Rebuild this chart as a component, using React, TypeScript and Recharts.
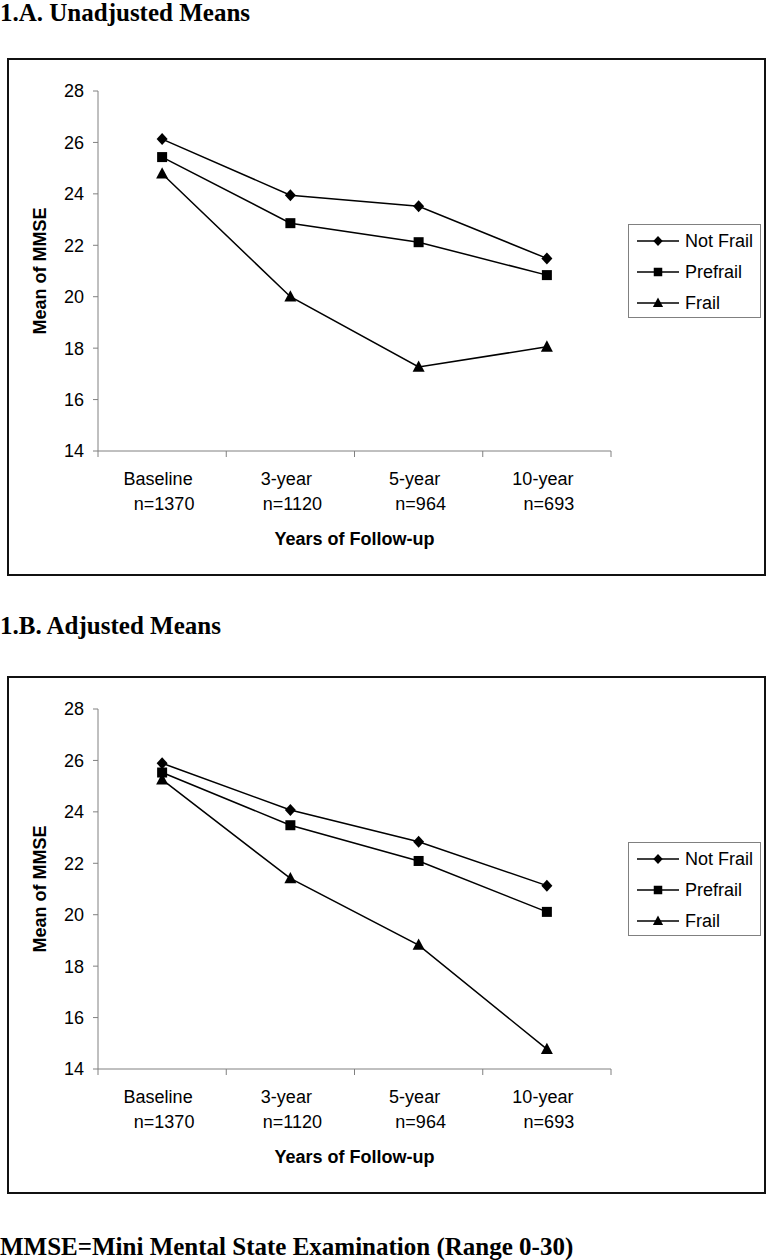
import { Line, LineChart, XAxis, YAxis } from 'recharts'

const categories = ['Baseline', '3-year', '5-year', '10-year']
const sampleSizes = ['n=1370', 'n=1120', 'n=964', 'n=693']
const seriesNames = ['Not Frail', 'Prefrail', 'Frail']
const markerShapes = ['diamond', 'square', 'triangle']
const yTicks = [14, 16, 18, 20, 22, 24, 26, 28]

// 1.A unadjusted means
const unadjustedNotFrail = [26.13, 23.95, 23.52, 21.49]
const unadjustedPrefrail = [25.43, 22.86, 22.12, 20.84]
const unadjustedFrail = [24.78, 20.0, 17.27, 18.05]

// 1.B adjusted means
const adjustedNotFrail = [25.89, 24.07, 22.84, 21.13]
const adjustedPrefrail = [25.53, 23.48, 22.09, 20.11]
const adjustedFrail = [25.25, 21.41, 18.82, 14.77]

const buildRows = (notFrail: number[], prefrail: number[], frail: number[]) =>
  categories.map((name, i) => ({
    name,
    'Not Frail': notFrail[i],
    Prefrail: prefrail[i],
    Frail: frail[i],
  }))

const unadjustedRows = buildRows(unadjustedNotFrail, unadjustedPrefrail, unadjustedFrail)
const adjustedRows = buildRows(adjustedNotFrail, adjustedPrefrail, adjustedFrail)

const sans = "'Liberation Sans', Arial, sans-serif"
const serif = "'Liberation Serif', 'Times New Roman', serif"
const axisGray = '#808080'

function Marker({ shape, cx, cy, s = 1 }: { shape: string; cx: number; cy: number; s?: number }) {
  if (shape === 'diamond') {
    return (
      <polygon
        points={`${cx},${cy - 6 * s} ${cx + 5.5 * s},${cy} ${cx},${cy + 6 * s} ${cx - 5.5 * s},${cy}`}
        fill='#000'
      />
    )
  }
  if (shape === 'square') {
    return <rect x={cx - 5 * s} y={cy - 5 * s} width={10 * s} height={10 * s} fill='#000' />
  }
  return (
    <polygon
      points={`${cx},${cy - 6.5 * s} ${cx + 6 * s},${cy + 4.8 * s} ${cx - 6 * s},${cy + 4.8 * s}`}
      fill='#000'
    />
  )
}

// two-line category label, with tick marks on the band edges (Excel style)
function CategoryTick(props: any) {
  const { x, y, payload, index } = props
  const half = payload.offset ?? 64
  return (
    <g>
      {index === 0 && <line x1={x - half} x2={x - half} y1={y} y2={y + 6} stroke={axisGray} />}
      <line x1={x + half} x2={x + half} y1={y} y2={y + 6} stroke={axisGray} />
      <text x={x} y={y} textAnchor='middle' fontSize={18} fill='#000'>
        <tspan x={x - 4} dy={34}>
          {payload.value}
        </tspan>
        <tspan x={x + 2} dy={25}>
          {sampleSizes[index]}
        </tspan>
      </text>
    </g>
  )
}

function LegendBox({ top }: { top: number }) {
  return (
    <div
      style={{
        position: 'absolute',
        left: 628,
        top,
        width: 133,
        height: 94,
        border: `1px solid ${axisGray}`,
        boxSizing: 'border-box',
        background: '#fff',
        fontFamily: sans,
        fontSize: 18,
      }}
    >
      {seriesNames.map((name, i) => (
        <div
          key={name}
          style={{ position: 'absolute', left: 0, top: 5 + i * 31, height: 22, display: 'flex', alignItems: 'center' }}
        >
          <svg width={54} height={22} style={{ display: 'block' }}>
            <line x1={8} x2={50} y1={11} y2={11} stroke='#000' strokeWidth={1.5} />
            <Marker shape={markerShapes[i]} cx={29} cy={11} s={0.85} />
          </svg>
          <span style={{ marginLeft: 2, whiteSpace: 'nowrap' }}>{name}</span>
        </div>
      ))}
    </div>
  )
}

function Panel({ top, rows }: { top: number; rows: any[] }) {
  return (
    <>
      <div
        style={{
          position: 'absolute',
          left: 7,
          top,
          width: 759,
          height: 518,
          border: '2px solid #111',
          boxSizing: 'border-box',
        }}
      />
      <div style={{ position: 'absolute', left: 0, top, fontFamily: sans }}>
        <LineChart width={768} height={518} data={rows} margin={{ top: 33, right: 157, left: 20, bottom: 25 }}>
          <XAxis
            dataKey='name'
            scale='band'
            height={100}
            interval={0}
            axisLine={{ stroke: axisGray }}
            tickLine={false}
            tickSize={0}
            tickMargin={0}
            tick={<CategoryTick />}
            label={{
              value: 'Years of Follow-up',
              position: 'insideBottom',
              offset: 6,
              style: { fontWeight: 'bold', fontSize: 18, fill: '#000' },
            }}
          />
          <YAxis
            domain={[14, 28]}
            ticks={yTicks}
            width={78}
            axisLine={{ stroke: axisGray }}
            tickLine={{ stroke: axisGray }}
            tickSize={5}
            tickMargin={9}
            tick={{ fill: '#000', fontSize: 18 }}
            label={{
              value: 'Mean of MMSE',
              angle: -90,
              position: 'insideLeft',
              offset: 20,
              style: { textAnchor: 'middle', fontWeight: 'bold', fontSize: 18, fill: '#000' },
            }}
          />
          {seriesNames.map((name, i) => (
            <Line
              key={name}
              type='linear'
              dataKey={name}
              stroke='#000'
              strokeWidth={1.5}
              isAnimationActive={false}
              activeDot={false}
              dot={(p: any) => <Marker key={`${name}-${p.index}`} shape={markerShapes[i]} cx={p.cx} cy={p.cy} />}
            />
          ))}
        </LineChart>
      </div>
      <LegendBox top={top + 166} />
    </>
  )
}

const headingStyle = {
  position: 'absolute' as const,
  left: 0,
  margin: 0,
  fontFamily: serif,
  fontWeight: 'bold' as const,
  fontSize: 25,
  lineHeight: '25px',
  whiteSpace: 'nowrap' as const,
  color: '#000',
}

export default function App() {
  return (
    <div style={{ position: 'absolute', left: 0, top: 0, width: 768, height: 1260, background: '#fff' }}>
      <div style={{ ...headingStyle, top: 0 }}>1.A. Unadjusted Means</div>
      <Panel top={58} rows={unadjustedRows} />
      <div style={{ ...headingStyle, top: 613 }}>1.B. Adjusted Means</div>
      <Panel top={676} rows={adjustedRows} />
      <div style={{ ...headingStyle, top: 1234 }}>MMSE=Mini Mental State Examination (Range 0-30)</div>
    </div>
  )
}
